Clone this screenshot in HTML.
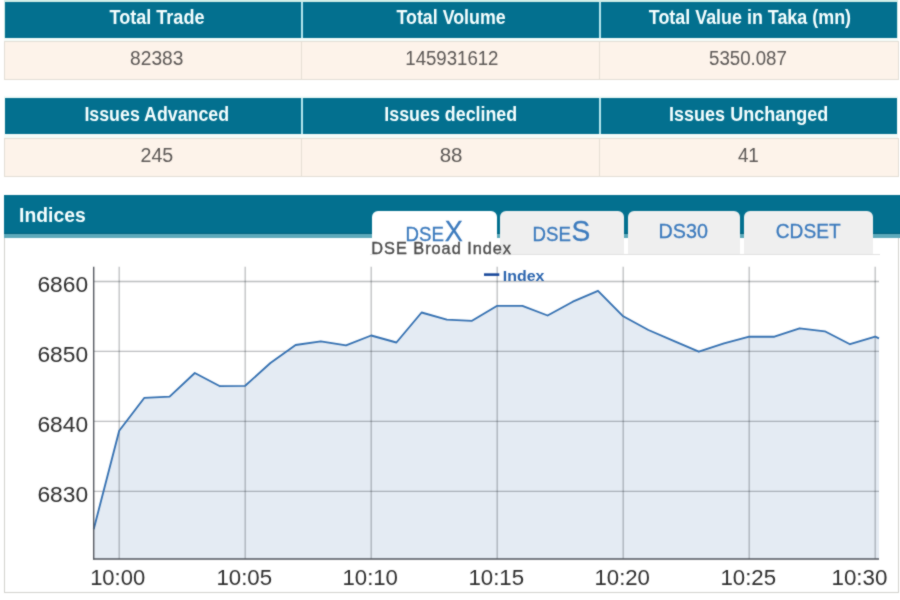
<!DOCTYPE html>
<html lang="en"><head><meta charset="utf-8"><title>Indices</title><style>
html,body{margin:0;padding:0;background:#fff;}
body{width:900px;height:600px;overflow:hidden;position:relative;font-family:"Liberation Sans",Arial,Helvetica,sans-serif;}
#page{position:absolute;left:0;top:0;width:900px;height:600px;overflow:hidden;background:#fff;filter:url(#soft);}
#page div,#page span.t,#page svg{position:absolute;}
.stats,.panel{left:0;top:0;width:0;height:0;}
.t{left:0;top:0;white-space:nowrap;transform-origin:0 0;display:block;}
.h,.lg{font-weight:bold;}
.ttl{-webkit-text-stroke:0.36px #4a4a4a;}
.th{background:#03708f;}
.gap{background:#f4fbf8;}
.hdiv{background:#b4e6ee;}
.vrow{background:#fdf3ea;border:1px solid #e2ded5;box-sizing:border-box;}
.vdiv{background:#e6dfd5;}
.phead{background:linear-gradient(#03708f 0,#03708f 38px,#04647f 38px,#04647f 39px,#5eaabb 39px,#5eaabb 43px);}
.pbody{background:#fff;border:1px solid #d2d2ce;border-top:none;box-sizing:border-box;}
.navline{background:#e2e2e2;}
.tb{-webkit-text-stroke:0.3px #3b7abd;}
.tab{background:#efefef;border-radius:6px 6px 0 0;}
.tab.on{background:#fff;}
.chart{left:0;top:0;}
.defs{position:absolute;left:0;top:0;}
</style></head>
<body><svg class="defs" width="0" height="0" aria-hidden="true"><defs><filter id="soft" x="0" y="0" width="100%" height="100%" color-interpolation-filters="sRGB"><feConvolveMatrix order="3" kernelMatrix="1 2 1 2 14 2 1 2 1" divisor="26" edgeMode="duplicate" preserveAlpha="true"/></filter></defs></svg><div id="page">
<div class="stats"><div class="hrow" style="left:4px;top:0px;width:894px;height:38px;background:#d2eee8"></div><div class="th" style="left:5px;top:2px;width:296px;height:36px"></div><div class="th" style="left:303px;top:2px;width:296px;height:36px"></div><div class="th" style="left:601px;top:2px;width:296px;height:36px"></div><div class="hdiv" style="left:301px;top:2px;width:2px;height:36px"></div><div class="hdiv" style="left:599px;top:2px;width:2px;height:36px"></div><span class="t h" style="font-size:20.72px;line-height:20.72px;color:#f6ffff;transform:translate(109.45px,7.16px) scaleX(0.8721);">Total Trade</span><span class="t h" style="font-size:20.72px;line-height:20.72px;color:#f6ffff;transform:translate(396.47px,7.16px) scaleX(0.8599);">Total Volume</span><span class="t h" style="font-size:20.72px;line-height:20.72px;color:#f6ffff;transform:translate(648.78px,7.16px) scaleX(0.8640);">Total Value in Taka (mn)</span><div class="gap" style="left:4px;top:38px;width:894px;height:3px"></div><div class="vrow" style="left:4px;top:41px;width:895px;height:39px"></div><div class="vdiv" style="left:301px;top:42px;width:1px;height:37px"></div><div class="vdiv" style="left:599px;top:42px;width:1px;height:37px"></div><span class="t v" style="font-size:20.72px;line-height:20.72px;color:#5c5856;transform:translate(130.12px,48.36px) scaleX(0.9224);">82383</span><span class="t v" style="font-size:20.72px;line-height:20.72px;color:#5c5856;transform:translate(405.32px,48.36px) scaleX(0.8980);">145931612</span><span class="t v" style="font-size:20.72px;line-height:20.72px;color:#5c5856;transform:translate(709.02px,48.36px) scaleX(0.9005);">5350.087</span></div>
<div class="stats"><div class="hrow" style="left:4px;top:96px;width:894px;height:38px;background:#f1faf8"></div><div class="th" style="left:5px;top:98px;width:296px;height:36px"></div><div class="th" style="left:303px;top:98px;width:296px;height:36px"></div><div class="th" style="left:601px;top:98px;width:296px;height:36px"></div><div class="hdiv" style="left:301px;top:98px;width:2px;height:36px"></div><div class="hdiv" style="left:599px;top:98px;width:2px;height:36px"></div><span class="t h" style="font-size:20.72px;line-height:20.72px;color:#f6ffff;transform:translate(84.38px,104.26px) scaleX(0.8590);">Issues Advanced</span><span class="t h" style="font-size:20.72px;line-height:20.72px;color:#f6ffff;transform:translate(384.30px,104.26px) scaleX(0.8612);">Issues declined</span><span class="t h" style="font-size:20.72px;line-height:20.72px;color:#f6ffff;transform:translate(669.09px,104.26px) scaleX(0.8688);">Issues Unchanged</span><div class="gap" style="left:4px;top:134px;width:894px;height:4px"></div><div class="vrow" style="left:4px;top:138px;width:895px;height:39px"></div><div class="vdiv" style="left:301px;top:139px;width:1px;height:37px"></div><div class="vdiv" style="left:599px;top:139px;width:1px;height:37px"></div><span class="t v" style="font-size:20.58px;line-height:20.58px;color:#5c5856;transform:translate(140.54px,144.78px) scaleX(0.9527);">245</span><span class="t v" style="font-size:20.58px;line-height:20.58px;color:#5c5856;transform:translate(439.71px,144.78px) scaleX(0.9964);">88</span><span class="t v" style="font-size:20.58px;line-height:20.58px;color:#5c5856;transform:translate(737.88px,144.78px) scaleX(0.9165);">41</span></div>
<div class="panel"><div class="pbody" style="left:4px;top:236px;width:895px;height:357px"></div><div class="phead" style="left:4px;top:195px;width:896px;height:43px"></div><span class="t h" style="font-size:20.29px;line-height:20.29px;color:#f6ffff;transform:translate(19.06px,204.82px) scaleX(0.9541);">Indices</span><div class="navline" style="left:370px;top:254px;width:510px;height:1px"></div><div class="tab on" style="left:372px;top:211px;width:125px;height:47px"></div><div class="tab " style="left:500px;top:211px;width:124px;height:43px"></div><div class="tab " style="left:628px;top:211px;width:112px;height:43px"></div><div class="tab " style="left:744px;top:211px;width:129px;height:43px"></div><span class="t tb" style="font-size:20.58px;line-height:20.58px;color:#3b7abd;transform:translate(405.46px,223.58px) scaleX(0.9066);">DSE</span><span class="t tb" style="font-size:29.71px;line-height:29.71px;color:#3b7abd;transform:translate(444.71px,215.85px) scaleX(0.9131);">X</span><span class="t tb" style="font-size:20.29px;line-height:20.29px;color:#3b7abd;transform:translate(532.46px,223.82px) scaleX(0.9200);">DSE</span><span class="t tb" style="font-size:29.71px;line-height:29.71px;color:#3b7abd;transform:translate(571.58px,215.85px) scaleX(0.9468);">S</span><span class="t tb" style="font-size:20.72px;line-height:20.72px;color:#3b7abd;transform:translate(658.55px,221.46px) scaleX(0.9514);">DS30</span><span class="t tb" style="font-size:20.72px;line-height:20.72px;color:#3b7abd;transform:translate(775.79px,221.46px) scaleX(0.9225);">CDSET</span><span class="t ttl" style="font-size:16.81px;line-height:16.81px;color:#4a4a4a;transform:translate(371.35px,241.37px) scaleX(0.9712);letter-spacing:1px;">DSE Broad Index</span><svg class="chart" width="900" height="600" viewBox="0 0 900 600"><polygon points="93.7,559 93.7,529.2 119.2,430.8 144.4,397.8 169.6,396.7 194.8,373.0 220.0,386.2 245.2,385.8 270.4,363.0 295.6,345.0 320.8,341.3 346.0,345.4 371.2,335.5 396.4,342.5 421.6,312.5 446.8,319.7 472.0,320.8 497.2,305.8 522.4,305.8 547.6,315.5 572.8,301.7 598.0,290.8 623.2,316.3 648.4,330.0 673.6,340.8 698.8,351.7 724.0,343.3 749.2,336.7 774.4,336.7 799.6,328.3 824.8,331.3 850.0,344.2 875.2,336.7 879.0,338.3 879,559" fill="#e4ebf3"/><line x1="93.7" x2="879" y1="281.5" y2="281.5" stroke="#10141c" stroke-opacity="0.28" stroke-width="1.3"/><line x1="93.7" x2="879" y1="351.4" y2="351.4" stroke="#10141c" stroke-opacity="0.28" stroke-width="1.3"/><line x1="93.7" x2="879" y1="421.3" y2="421.3" stroke="#10141c" stroke-opacity="0.28" stroke-width="1.3"/><line x1="93.7" x2="879" y1="491.3" y2="491.3" stroke="#10141c" stroke-opacity="0.28" stroke-width="1.3"/><line x1="119.2" x2="119.2" y1="266.7" y2="559" stroke="#10141c" stroke-opacity="0.28" stroke-width="1.3"/><line x1="245.2" x2="245.2" y1="266.7" y2="559" stroke="#10141c" stroke-opacity="0.28" stroke-width="1.3"/><line x1="371.2" x2="371.2" y1="266.7" y2="559" stroke="#10141c" stroke-opacity="0.28" stroke-width="1.3"/><line x1="497.2" x2="497.2" y1="266.7" y2="559" stroke="#10141c" stroke-opacity="0.28" stroke-width="1.3"/><line x1="623.2" x2="623.2" y1="266.7" y2="559" stroke="#10141c" stroke-opacity="0.28" stroke-width="1.3"/><line x1="749.2" x2="749.2" y1="266.7" y2="559" stroke="#10141c" stroke-opacity="0.28" stroke-width="1.3"/><line x1="875.2" x2="875.2" y1="266.7" y2="559" stroke="#10141c" stroke-opacity="0.28" stroke-width="1.3"/><polyline points="93.7,529.2 119.2,430.8 144.4,397.8 169.6,396.7 194.8,373.0 220.0,386.2 245.2,385.8 270.4,363.0 295.6,345.0 320.8,341.3 346.0,345.4 371.2,335.5 396.4,342.5 421.6,312.5 446.8,319.7 472.0,320.8 497.2,305.8 522.4,305.8 547.6,315.5 572.8,301.7 598.0,290.8 623.2,316.3 648.4,330.0 673.6,340.8 698.8,351.7 724.0,343.3 749.2,336.7 774.4,336.7 799.6,328.3 824.8,331.3 850.0,344.2 875.2,336.7 879.0,338.3" fill="none" stroke="#3470b1" stroke-width="1.85" stroke-linejoin="round"/><line x1="93.7" x2="93.7" y1="266.7" y2="559.6" stroke="#50545c" stroke-width="1.35"/><line x1="93.10000000000001" x2="879" y1="559" y2="559" stroke="#50545c" stroke-width="1.35"/><line x1="484" x2="499.3" y1="274.6" y2="274.6" stroke="#17479a" stroke-width="2.6"/></svg><span class="t lg" style="font-size:14.93px;line-height:14.93px;color:#2a64ae;transform:translate(502.81px,269.36px) scaleX(1.0653);">Index</span><span class="t ax" style="font-size:22.32px;line-height:22.32px;color:#2e2e2e;transform:translate(37.46px,274.11px) scaleX(1.0193);">6860</span><span class="t ax" style="font-size:22.32px;line-height:22.32px;color:#2e2e2e;transform:translate(37.46px,344.01px) scaleX(1.0193);">6850</span><span class="t ax" style="font-size:22.32px;line-height:22.32px;color:#2e2e2e;transform:translate(37.46px,413.91px) scaleX(1.0193);">6840</span><span class="t ax" style="font-size:22.32px;line-height:22.32px;color:#2e2e2e;transform:translate(37.46px,483.91px) scaleX(1.0193);">6830</span><span class="t ax" style="font-size:22.32px;line-height:22.32px;color:#2e2e2e;transform:translate(90.13px,566.51px) scaleX(0.9860);">10:00</span><span class="t ax" style="font-size:22.32px;line-height:22.32px;color:#2e2e2e;transform:translate(216.44px,566.51px) scaleX(0.9971);">10:05</span><span class="t ax" style="font-size:22.32px;line-height:22.32px;color:#2e2e2e;transform:translate(342.47px,566.51px) scaleX(0.9936);">10:10</span><span class="t ax" style="font-size:22.32px;line-height:22.32px;color:#2e2e2e;transform:translate(468.44px,566.51px) scaleX(0.9971);">10:15</span><span class="t ax" style="font-size:22.32px;line-height:22.32px;color:#2e2e2e;transform:translate(594.47px,566.51px) scaleX(0.9936);">10:20</span><span class="t ax" style="font-size:22.32px;line-height:22.32px;color:#2e2e2e;transform:translate(720.44px,566.51px) scaleX(0.9971);">10:25</span><span class="t ax" style="font-size:22.32px;line-height:22.32px;color:#2e2e2e;transform:translate(831.50px,566.51px) scaleX(1.0021);">10:30</span></div>
</div></body></html>
